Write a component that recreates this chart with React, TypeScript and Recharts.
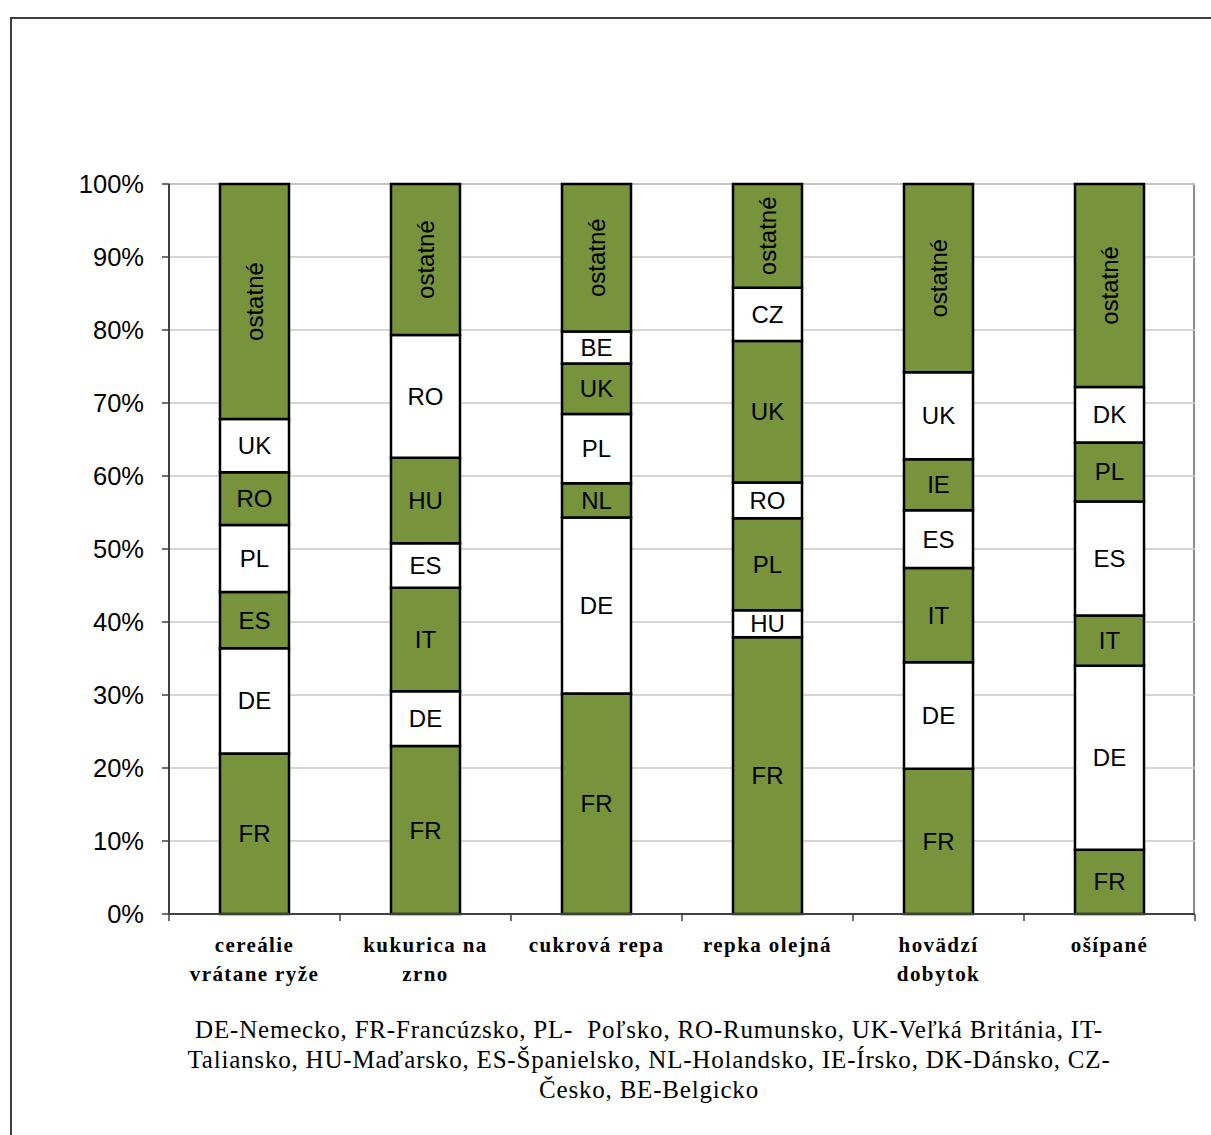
import React from 'react';
import { BarChart, Bar, XAxis, YAxis, CartesianGrid, LabelList } from 'recharts';

const categories = [
  'cereálie\nvrátane ryže',
  'kukurica na\nzrno',
  'cukrová repa',
  'repka olejná',
  'hovädzí\ndobytok',
  'ošípané'
];

// stacked segments, from the bottom of each bar up
const seg1 = [22.0, 23.0, 30.2, 37.9, 19.9, 8.8];
const seg1Labels = ['FR', 'FR', 'FR', 'FR', 'FR', 'FR'];
const seg2 = [14.4, 7.5, 24.1, 3.7, 14.6, 25.2];
const seg2Labels = ['DE', 'DE', 'DE', 'HU', 'DE', 'DE'];
const seg3 = [7.7, 14.2, 4.7, 12.6, 12.9, 6.9];
const seg3Labels = ['ES', 'IT', 'NL', 'PL', 'IT', 'IT'];
const seg4 = [9.2, 6.1, 9.5, 4.9, 7.9, 15.6];
const seg4Labels = ['PL', 'ES', 'PL', 'RO', 'ES', 'ES'];
const seg5 = [7.2, 11.7, 6.9, 19.4, 7.0, 8.1];
const seg5Labels = ['RO', 'HU', 'UK', 'UK', 'IE', 'PL'];
const seg6 = [7.3, 16.8, 4.4, 7.3, 11.9, 7.6];
const seg6Labels = ['UK', 'RO', 'BE', 'CZ', 'UK', 'DK'];
const others = [32.2, 20.7, 20.2, 14.2, 25.8, 27.8];
const othersLabel = 'ostatné';

const yTicks = [0, 10, 20, 30, 40, 50, 60, 70, 80, 90, 100];

const footnoteLines = [
  'DE-Nemecko, FR-Francúzsko, PL-  Poľsko, RO-Rumunsko, UK-Veľká Británia, IT-',
  'Taliansko, HU-Maďarsko, ES-Španielsko, NL-Holandsko, IE-Írsko, DK-Dánsko, CZ-',
  'Česko, BE-Belgicko'
];

const segValues = [seg1, seg2, seg3, seg4, seg5, seg6, others];
const segLabels = [seg1Labels, seg2Labels, seg3Labels, seg4Labels, seg5Labels, seg6Labels, categories.map(() => othersLabel)];

const data = categories.map((name, i) => {
  const row: any = { name };
  segValues.forEach((vals, s) => {
    row[`s${s}`] = vals[i];
    row[`l${s}`] = segLabels[s][i];
  });
  return row;
});

const GREEN = '#77933c';
const SANS = "'Liberation Sans', Arial, sans-serif";
const SERIF = "'Liberation Serif', 'Times New Roman', serif";

const CHART_W = 1211;
const CHART_H = 1004;
const MARGIN = { top: 184, right: 16, bottom: 10, left: 89 };
const Y_AXIS_W = 80;
const PLOT_W = CHART_W - MARGIN.left - MARGIN.right - Y_AXIS_W;

const makeSegmentLabel = (rotated: boolean) => (props: any) => {
  const { x, y, width, height, value } = props;
  const cx = x + width / 2;
  const cy = y + height / 2;
  return (
    <text
      x={cx}
      y={cy}
      textAnchor="middle"
      dominantBaseline="central"
      fontFamily={SANS}
      fontSize={24}
      fill="#000"
      transform={rotated ? `rotate(-90 ${cx} ${cy})` : undefined}
    >
      {value}
    </text>
  );
};

const CategoryTick = (props: any) => {
  const { x, y, payload, index } = props;
  const half = PLOT_W / categories.length / 2;
  const lines = String(payload.value).split('\n');
  return (
    <g>
      <line x1={x - half} y1={y} x2={x - half} y2={y + 7} stroke="#404040" strokeWidth={1.5} />
      {index === categories.length - 1 && (
        <line x1={x + half} y1={y} x2={x + half} y2={y + 7} stroke="#404040" strokeWidth={1.5} />
      )}
      <text
        x={x}
        y={y}
        textAnchor="middle"
        fontFamily={SERIF}
        fontWeight="bold"
        fontSize={21}
        letterSpacing={1.4}
        fill="#000"
      >
        {lines.map((line, i) => (
          <tspan key={i} x={x} y={y + 38 + i * 29}>
            {line}
          </tspan>
        ))}
      </text>
    </g>
  );
};

export default function App() {
  const plotLeft = MARGIN.left + Y_AXIS_W;
  const plotBottom = CHART_H - MARGIN.bottom - 80;
  return (
    <div style={{ position: 'absolute', left: 0, top: 0, width: 1211, height: 1135, background: '#fff', overflow: 'hidden' }}>
      <div
        style={{
          position: 'absolute',
          left: 10,
          top: 17,
          width: 1230,
          height: 1140,
          border: '2px solid #404040',
          boxSizing: 'border-box'
        }}
      />
      <div
        style={{
          position: 'absolute',
          left: plotLeft,
          top: MARGIN.top - 1,
          width: PLOT_W,
          height: plotBottom - MARGIN.top,
          borderTop: '2px solid #8c8c8c',
          borderRight: '2px solid #8c8c8c',
          boxSizing: 'border-box'
        }}
      />
      <div style={{ position: 'absolute', left: 0, top: 0 }}>
        <BarChart width={CHART_W} height={CHART_H} data={data} margin={MARGIN}>
          <CartesianGrid vertical={false} stroke="#c8c8c8" strokeWidth={1.5} />
          <XAxis
            dataKey="name"
            interval={0}
            height={80}
            tickSize={0}
            tickMargin={0}
            axisLine={{ stroke: '#404040', strokeWidth: 2 }}
            tick={<CategoryTick />}
          />
          <YAxis
            width={Y_AXIS_W}
            domain={[0, 100]}
            ticks={yTicks}
            tickFormatter={(v) => `${v}%`}
            tickSize={7}
            tickMargin={18}
            axisLine={{ stroke: '#404040', strokeWidth: 2 }}
            tickLine={{ stroke: '#404040', strokeWidth: 1.5 }}
            tick={{ fontFamily: SANS, fontSize: 25.5, fill: '#000' }}
          />
          {segValues.map((_, s) => (
            <Bar
              key={s}
              dataKey={`s${s}`}
              stackId="a"
              barSize={69}
              fill={s % 2 === 0 ? GREEN : '#ffffff'}
              stroke="#000"
              strokeWidth={2.5}
              isAnimationActive={false}
            >
              <LabelList dataKey={`l${s}`} content={makeSegmentLabel(s === segValues.length - 1)} />
            </Bar>
          ))}
        </BarChart>
      </div>
      <div
        style={{
          position: 'absolute',
          left: 99,
          top: 1015,
          width: 1100,
          textAlign: 'center',
          fontFamily: SERIF,
          fontSize: 25,
          letterSpacing: '0.8px',
          lineHeight: '30px',
          color: '#000',
          whiteSpace: 'pre'
        }}
      >
        {footnoteLines.map((line, i) => (
          <div key={i}>{line}</div>
        ))}
      </div>
    </div>
  );
}
